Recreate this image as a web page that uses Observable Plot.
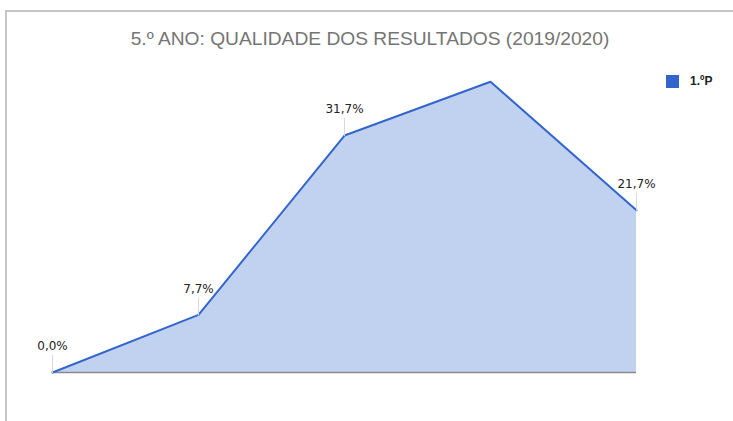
<!DOCTYPE html>
<html>
<head>
<meta charset="utf-8">
<script src="https://cdn.jsdelivr.net/npm/d3@7"></script>
<script src="https://cdn.jsdelivr.net/npm/@observablehq/plot@0.6"></script>
<style>
  html, body { margin: 0; padding: 0; background: #fff; }
  #wrap { position: relative; width: 733px; height: 421px; overflow: hidden; font-family: "Liberation Sans", Arial, sans-serif; }
  #frame { position: absolute; left: 5px; top: 10px; right: -5px; bottom: -5px; border-top: 2px solid #c6c6c6; border-left: 2px solid #c6c6c6; }
  #title { position: absolute; left: 0; width: 740px; top: 28px; text-align: center; font-size: 19.2px; color: #757575; white-space: nowrap; }
  #legend { position: absolute; left: 666px; top: 74px; display: flex; align-items: center; font-size: 12px; font-weight: bold; color: #222; }
  #legend .sw { width: 13px; height: 13px; background: #3366cc; margin-right: 11px; }
  #chart { position: absolute; left: 0; top: 0; }
</style>
</head>
<body>
<div id="wrap">
  <div id="frame"></div>
  <div id="chart"></div>
  <div id="title"></div>
  <div id="legend"><div class="sw"></div><span id="legtext"></span></div>
</div>
<script>
const title = "5.º ANO: QUALIDADE DOS RESULTADOS (2019/2020)";
const seriesName = "1.ºP";
const categories = ["A", "B", "C", "D", "E"];
const values = [0.0, 7.7, 31.7, 38.9, 21.7];
const labels = ["0,0%", "7,7%", "31,7%", null, "21,7%"];

document.getElementById("title").textContent = title;
document.getElementById("legtext").textContent = seriesName;

const data = categories.map((c, i) => ({cat: c, v: values[i], label: labels[i]}));
const labeled = data.filter(d => d.label != null);

const leader = {draw(context, l) { context.moveTo(0, 0); context.lineTo(0, -l); }};

const plot = Plot.plot({
  width: 733,
  height: 421,
  marginLeft: 52,
  marginRight: 97,
  marginTop: 73,
  marginBottom: 49,
  style: {background: "transparent", fontFamily: "Liberation Sans, Arial, sans-serif"},
  x: {type: "point", domain: categories, padding: 0, axis: null},
  y: {domain: [0, 40], axis: null},
  marks: [
    Plot.areaY(data, {x: "cat", y: "v", fill: "#3366cc", fillOpacity: 0.3}),
    Plot.ruleY([0], {stroke: "#8a8a8a", strokeWidth: 1.5}),
    Plot.lineY(data, {x: "cat", y: "v", stroke: "#3366cc", strokeWidth: 2}),
    Plot.vector(labeled, {x: "cat", y: "v", length: 17, anchor: "start", shape: leader, stroke: "#d8d8d8", strokeWidth: 1}),
    Plot.text(labeled, {x: "cat", y: "v", text: "label", dy: -26, fontSize: 12, fill: "#222", fontFamily: "DejaVu Sans, sans-serif"})
  ]
});
document.getElementById("chart").appendChild(plot);
</script>
</body>
</html>
